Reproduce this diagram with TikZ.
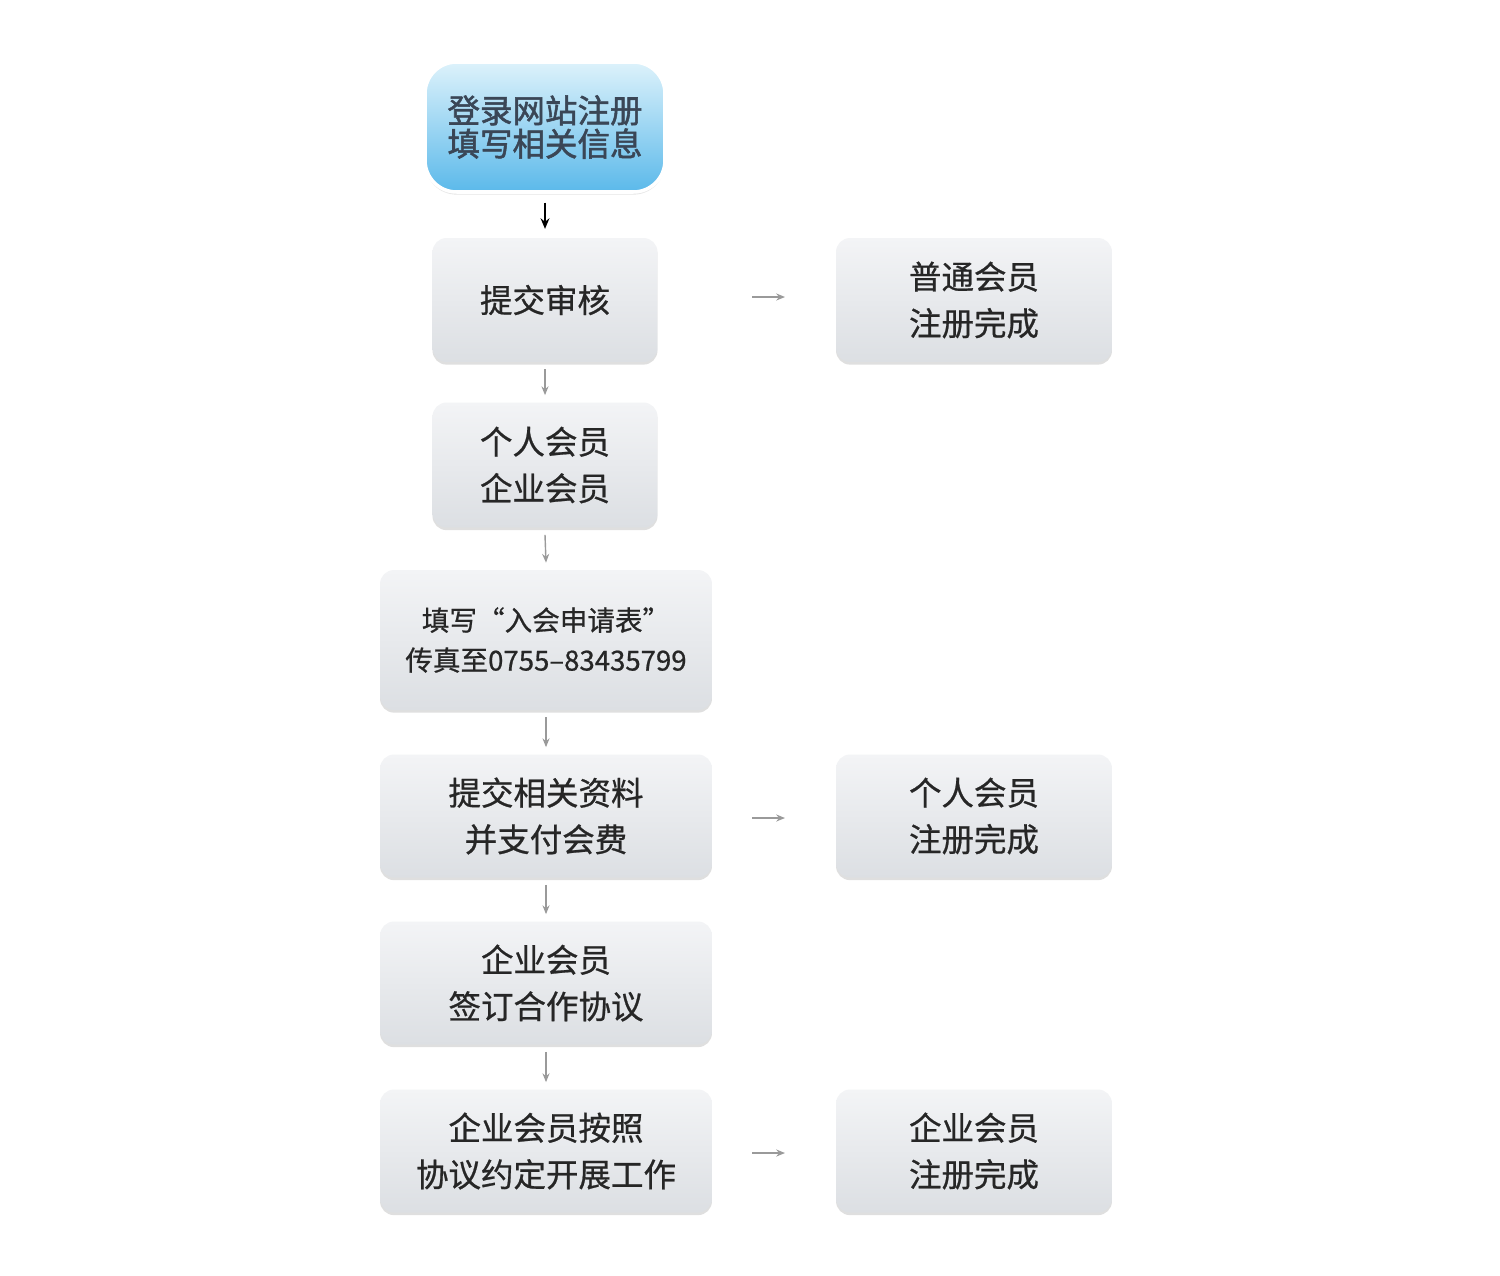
\documentclass[tikz,border=0pt]{standalone}
\usepackage{fontspec}
\setmainfont{Noto Sans CJK SC}
\newfontfamily\grayfont[FakeBold=0.7]{Noto Sans CJK SC}
\newfontfamily\bluefont[FakeBold=1.6]{Noto Sans CJK SC}
\usetikzlibrary{shadows,arrows.meta}
\definecolor{txt}{HTML}{262626}
\definecolor{bluetxt}{HTML}{3A4656}
\definecolor{gtop}{HTML}{F3F4F6}
\definecolor{gbot}{HTML}{DCDFE3}
\definecolor{btop}{HTML}{DDF2FB}
\definecolor{bbot}{HTML}{5BB9EA}
\definecolor{arrgray}{HTML}{9A9A9A}
\begin{document}
\begin{tikzpicture}[x=0.02cm,y=-0.02cm,
  gbox/.style={rounded corners=8pt, top color=gtop, bottom color=gbot, draw=none,
    drop shadow={shadow xshift=0pt, shadow yshift=-1.5pt, opacity=0.25, fill=gray},
    align=center, text=txt, inner sep=0pt, font=\grayfont\fontsize{18.5}{26.5}\selectfont},
  bbox/.style={rounded corners=18pt, top color=btop, bottom color=bbot, draw=white, line width=2pt,
    drop shadow={shadow xshift=0pt, shadow yshift=-1.5pt, opacity=0.2, fill=gray},
    align=center, text=bluetxt, inner sep=0pt, font=\bluefont\fontsize{18.5}{19}\selectfont},
  garr/.style={draw=arrgray, line width=0.8pt, -{Stealth[length=5pt,width=4pt]}},
  karr/.style={draw=black, line width=1pt, -{Stealth[length=6pt,width=5pt]}}
]
\useasboundingbox[fill=white] (0,0) rectangle (1500,1275);
\node[bbox, minimum width=4.8cm, minimum height=2.6cm] (n0) at (545,127) {登录网站注册\\填写相关信息};
\node[gbox, minimum width=4.5cm, minimum height=2.48cm] (n1) at (545,300) {提交审核};
\node[gbox, minimum width=5.52cm, minimum height=2.48cm] (r1) at (974,300) {普通会员\\注册完成};
\node[gbox, minimum width=4.5cm, minimum height=2.5cm] (n2) at (545,465) {个人会员\\企业会员};
\node[gbox, minimum width=6.64cm, minimum height=2.8cm, font=\grayfont\fontsize{15.7}{22.7}\selectfont] (n3) at (546,640) {填写“入会申请表”\\传真至0755–83435799};
\node[gbox, minimum width=6.64cm, minimum height=2.46cm] (n4) at (546,816) {提交相关资料\\并支付会费};
\node[gbox, minimum width=5.52cm, minimum height=2.46cm] (r2) at (974,816) {个人会员\\注册完成};
\node[gbox, minimum width=6.64cm, minimum height=2.46cm] (n5) at (546,983) {企业会员\\签订合作协议};
\node[gbox, minimum width=6.64cm, minimum height=2.46cm] (n6) at (546,1151) {企业会员按照\\协议约定开展工作};
\node[gbox, minimum width=5.52cm, minimum height=2.46cm] (r3) at (974,1151) {企业会员\\注册完成};
\draw[karr] ([yshift=-5]n0.south) -- ([yshift=5]n1.north);
\foreach \u/\v in {n1/n2,n2/n3,n3/n4,n4/n5,n5/n6}{
  \draw[garr] ([yshift=-4]\u.south) -- ([yshift=4]\v.north);
}
\coordinate (s1) at (752,297); \coordinate (e1) at (785,297);
\coordinate (s2) at (752,818); \coordinate (e2) at (785,818);
\coordinate (s3) at (752,1153); \coordinate (e3) at (785,1153);
\draw[garr] (s1) -- (e1);
\draw[garr] (s2) -- (e2);
\draw[garr] (s3) -- (e3);
\end{tikzpicture}
\end{document}
